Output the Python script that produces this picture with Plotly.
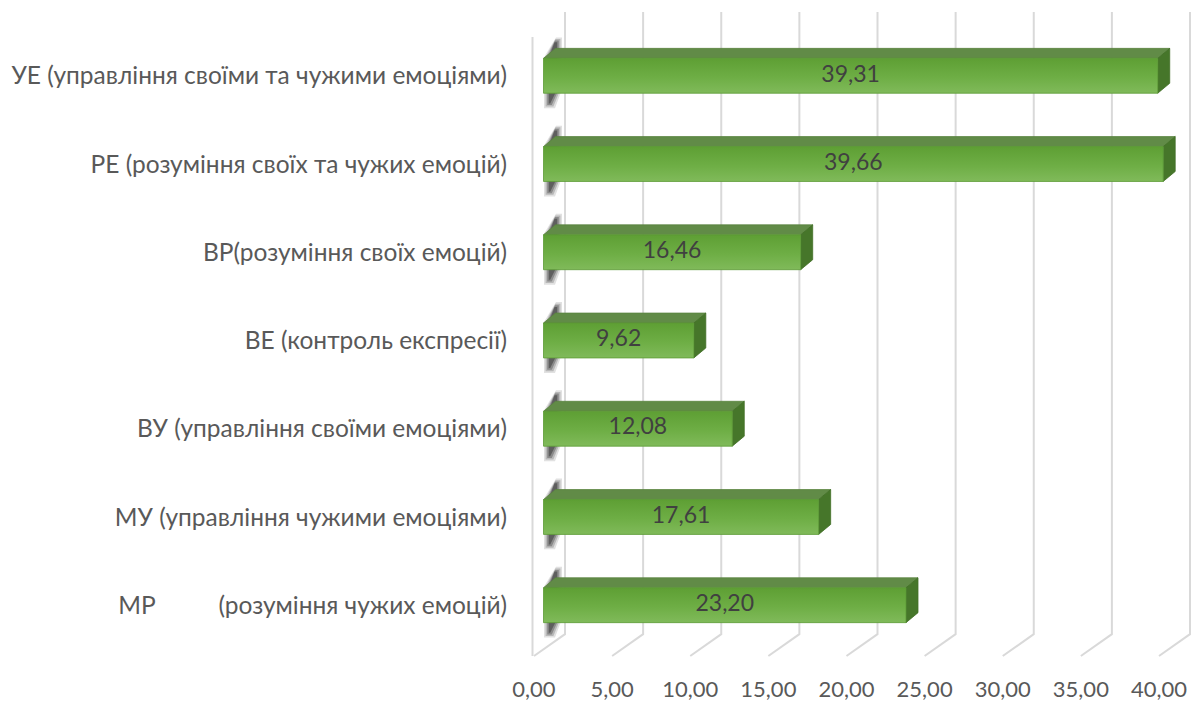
import plotly.graph_objects as go

# ---- data -------------------------------------------------------------
categories = [
    "УЕ (управління своїми та чужими емоціями)",
    "РЕ (розуміння своїх та чужих емоцій)",
    "ВР(розуміння своїх емоцій)",
    "ВЕ (контроль експресії)",
    "ВУ (управління своїми емоціями)",
    "МУ (управління чужими емоціями)",
    "МР" + "\u00a0" * 10 + "(розуміння чужих емоцій)",
]
values = [39.31, 39.66, 16.46, 9.62, 12.08, 17.61, 23.20]
x_ticks = [0, 5, 10, 15, 20, 25, 30, 35, 40]
x_tick_labels = ["0,00", "5,00", "10,00", "15,00", "20,00", "25,00", "30,00", "35,00", "40,00"]

# ---- geometry of the pseudo-3D scene (pixels) -------------------------
W, H = 1194, 702
L_MARGIN, B_MARGIN = 514, 26
X0, SX = 534.0, 15.625      # floor-front pixel of value 0, pixels per unit
Y0, SY = 76.0, 88.5         # pixel centre of first row, pixels per row
PLOT_H = H - B_MARGIN

x_range = [(L_MARGIN - X0) / SX, (W - X0) / SX]
y_range = [(PLOT_H - Y0) / SY, (0 - Y0) / SY]   # reversed: row 0 on top

def ux(px):   # horizontal pixel offset -> axis units
    return px / SX

def uy(px):   # vertical pixel offset -> row units
    return px / SY

BAR_SHIFT = ux(9.5)     # bar front face starts this far right of floor front
HALF_H = uy(17.5)       # half height of front face
DEPTH_X, DEPTH_Y = ux(12), uy(10)

WALL_X, WALL_Y = ux(31), uy(22)   # back-wall offset of gridlines
TOP_ROW = (12 - Y0) / SY
FLOOR_FRONT = (658 - Y0) / SY
FLOOR_BACK = FLOOR_FRONT - WALL_Y
EDGE_TOP = (37 - Y0) / SY

GRID = "#d9d9d9"
TXT = "#595959"
FONT = "Lato, 'Open Sans', sans-serif"

fig = go.Figure()

# gridlines: back wall verticals plus slanted floor lines
gx, gy = [], []
for v in x_ticks:
    gx += [v + WALL_X, v + WALL_X, v, None]
    gy += [TOP_ROW, FLOOR_BACK, FLOOR_FRONT, None]
# front edge of the side wall
gx += [x_ticks[0] - ux(1.5), x_ticks[0] - ux(1.5), None]
gy += [EDGE_TOP, FLOOR_FRONT, None]
fig.add_trace(go.Scatter(x=gx, y=gy, mode="lines",
                         line=dict(color=GRID, width=2),
                         hoverinfo="skip", showlegend=False))

# soft shadow at the root of each bar (stacked translucent layers)
for layer, alpha in [(0, 0.14), (1, 0.22), (2, 0.32), (3, 0.45)]:
    sx, sy = [], []
    s = layer * 1.6
    for r in range(len(values)):
        top = r - HALF_H
        bot = r + HALF_H
        sx += [ux(10 + s), ux(10 + s), ux(22 - s * 0.3),
               ux(28 - s), ux(28 - s), ux(21 - s), None]
        sy += [bot + uy(15 - s), top - uy(1), top - uy(21 - s),
               top - uy(21 - s), bot - uy(4), bot + uy(15 - s), None]
    fig.add_trace(go.Scatter(x=sx, y=sy, mode="lines", fill="toself",
                             fillcolor=f"rgba(40,40,40,{alpha})",
                             line=dict(width=0), hoverinfo="skip",
                             showlegend=False))

# bars: top face, right face and gradient front face
tx, ty, rx, ry = [], [], [], []
for r, v in enumerate(values):
    x0, x1 = BAR_SHIFT, BAR_SHIFT + v
    top, bot = r - HALF_H, r + HALF_H
    tx += [x0, x1, x1 + DEPTH_X, x0 + DEPTH_X, x0, None]
    ty += [top, top, top - DEPTH_Y, top - DEPTH_Y, top, None]
    rx += [x1, x1 + DEPTH_X, x1 + DEPTH_X, x1, x1, None]
    ry += [top, top - DEPTH_Y, bot - DEPTH_Y, bot, top, None]

fig.add_trace(go.Scatter(x=tx, y=ty, mode="lines", fill="toself",
                         fillcolor="#618b47", line=dict(width=0.8, color="#5a8440"),
                         hoverinfo="skip", showlegend=False))
fig.add_trace(go.Scatter(x=rx, y=ry, mode="lines", fill="toself",
                         fillcolor="#46762a", line=dict(width=0.8, color="#416f26"),
                         hoverinfo="skip", showlegend=False))

for r, v in enumerate(values):
    x0, x1 = BAR_SHIFT, BAR_SHIFT + v
    top, bot = r - HALF_H, r + HALF_H
    fig.add_trace(go.Scatter(
        x=[x0, x1, x1, x0, x0], y=[top, top, bot, bot, top],
        mode="lines", fill="toself",
        fillgradient=dict(type="vertical",
                          colorscale=[[0, "#80ba5a"], [0.45, "#6eae45"], [1, "#5e9f34"]]),
        line=dict(width=0.8, color="#5c9a35"),
        hoverinfo="skip", showlegend=False))

# value labels in the middle of each front face
fig.add_trace(go.Scatter(
    x=[BAR_SHIFT + v / 2 for v in values],
    y=list(range(len(values))),
    mode="text",
    text=[f"{v:.2f}".replace(".", ",") for v in values],
    textfont=dict(family=FONT, size=23, color="#404040"),
    hoverinfo="skip", showlegend=False))

fig.update_layout(
    width=W, height=H,
    margin=dict(l=L_MARGIN, r=0, t=0, b=B_MARGIN),
    paper_bgcolor="white", plot_bgcolor="white",
    showlegend=False,
    xaxis=dict(range=x_range, showgrid=False, zeroline=False, showline=False,
               tickvals=x_ticks, ticktext=x_tick_labels, ticks="",
               tickfont=dict(family=FONT, size=22, color=TXT)),
    yaxis=dict(range=y_range, showgrid=False, zeroline=False, showline=False,
               tickvals=list(range(len(categories))), ticktext=categories,
               ticks="", ticklabelstandoff=6,
               tickfont=dict(family=FONT, size=24.5, color=TXT)),
)

fig.write_html("out.html")
